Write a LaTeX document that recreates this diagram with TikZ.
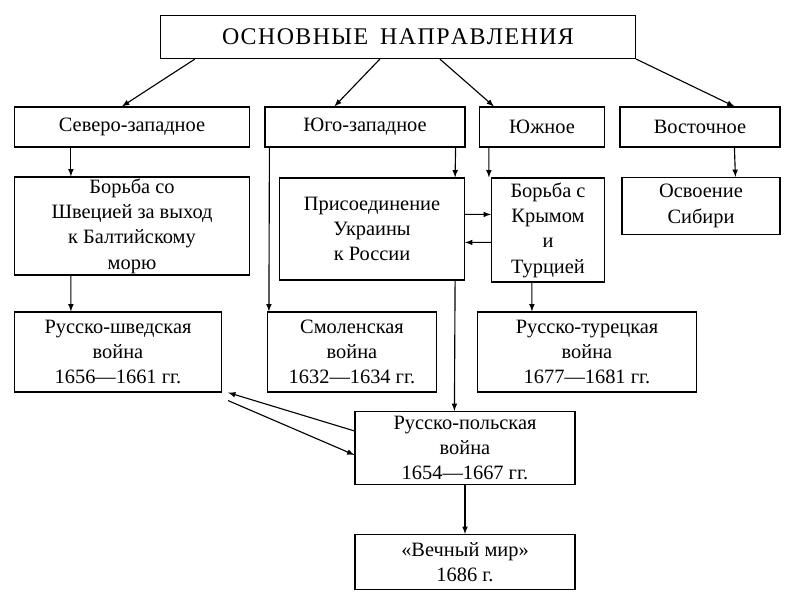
\documentclass[tikz,border=0pt]{standalone}
\usepackage{fontspec}
\setmainfont{Liberation Serif}
\usetikzlibrary{calc}
\begin{document}
\begin{tikzpicture}
[x=0.025cm,y=-0.025cm,
box/.style={draw,thick,align=center,inner sep=1pt,font=\fontsize{14.5}{18}\selectfont},
arr/.style={thick,-latex}]
\useasboundingbox (0,0) rectangle (800,600);
\node[box,minimum width=11.875cm,minimum height=1.075cm,font=\fontsize{17}{20}\selectfont](top) at (398,37){О\kern1ptС\kern1ptН\kern1ptО\kern1ptВ\kern1ptН\kern1ptЫ\kern1ptЕ\ \ Н\kern1ptА\kern1ptП\kern1ptР\kern1ptА\kern1ptВ\kern1ptЛ\kern1ptЕ\kern1ptН\kern1ptИ\kern1ptЯ};
\node[box,minimum width=5.875cm,minimum height=1cm](sz) at (132,127){Северо-западное};
\node[box,minimum width=5cm,minimum height=1cm](yz) at (365,127){Юго-западное};
\node[box,minimum width=3.125cm,minimum height=1cm](yu) at (542,127){Южное};
\node[box,minimum width=4cm,minimum height=1cm](vo) at (700,127){Восточное};
\node[box,minimum width=5.875cm,minimum height=2.45cm](bs) at (132,226){Борьба со\\Швецией за выход\\к Балтийскому\\морю};
\node[box,minimum width=4.625cm,minimum height=2.55cm](pr) at (372,229){Присоединение\\Украины\\к России};
\node[box,minimum width=2.825cm,minimum height=2.6cm](kr) at (548,230){Борьба с\\Крымом\\и\\Турцией};
\node[box,minimum width=3.95cm,minimum height=1.425cm](sib) at (701,206){Освоение\\Сибири};
\node[box,minimum width=5.175cm,minimum height=2cm](rsw) at (118,352){Русско-шведская\\война\\1656---1661 гг.};
\node[box,minimum width=4.225cm,minimum height=2cm](sm) at (352,352){Смоленская\\война\\1632---1634 гг.};
\node[box,minimum width=5.475cm,minimum height=2cm](rt) at (587,352){Русско-турецкая\\война\\1677---1681 гг.};
\node[box,minimum width=5.5cm,minimum height=1.825cm](rp) at (465,448){Русско-польская\\война\\1654---1667 гг.};
\node[box,minimum width=5.5cm,minimum height=1.375cm](mir) at (465,562){«Вечный мир»\\1686 г.};
% from top
\draw[arr] ($(top.south west)+(35,0)$) -- ($(sz.north west)+(108,0)$);
\draw[arr] ($(top.south west)+(220,0)$) -- ($(yz.north west)+(70,0)$);
\draw[arr] ($(top.south west)+(280,0)$) -- ($(yu.north west)+(15,0)$);
\draw[arr] (top.south east) -- ($(vo.north west)+(115,0)$);
% down
\draw[arr] ($(sz.south west)+(57,0)$) -- ($(bs.north west)+(57,0)$);
\draw[arr] ($(bs.south west)+(57,0)$) -- ($(rsw.north west)+(57,0)$);
\draw[arr] ($(yz.south east)+(-10,0)$) -- ($(pr.north east)+(-10,0)$);
\draw[arr] ($(yz.south west)+(5,0)$) -- ($(sm.north west)+(2,0)$);
\draw[arr] ($(yu.south west)+(10,0)$) -- ($(kr.north west)+(-2,0)$);
\draw[arr] ($(vo.south west)+(115,0)$) -- ($(sib.north west)+(114,0)$);
\draw[arr] ($(kr.south west)+(41,0)$) -- ($(rt.north west)+(55,0)$);
\draw[arr] ($(pr.south east)+(-10,0)$) -- ($(rp.north west)+(100,0)$);
\draw[arr] (rp.south) -- (mir.north);
% between
\draw[arr] ($(pr.north east)+(0,37)$) -- ($(kr.north west)+(0,37)$);
\draw[arr] ($(kr.north west)+(0,65)$) -- ($(pr.north east)+(0,65)$);
\draw[arr] ($(rp.north west)+(0,20)$) -- ($(rsw.south east)+(6,0)$);
\draw[arr] ($(rsw.south east)+(6,8)$) -- ($(rp.north west)+(0,44)$);
\end{tikzpicture}
\end{document}
